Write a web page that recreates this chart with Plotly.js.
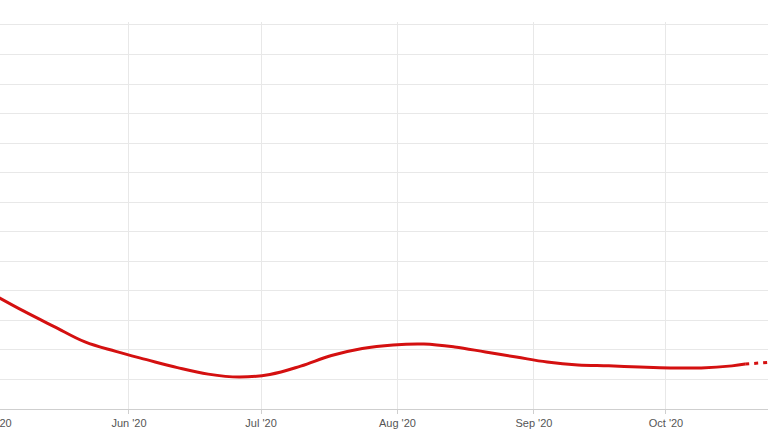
<!DOCTYPE html>
<html>
<head>
<meta charset="utf-8">
<script src="https://cdn.plot.ly/plotly-3.0.1.min.js"></script>
<style>
  html, body { margin: 0; padding: 0; overflow: hidden; background: #fff; width: 768px; height: 432px; }
  #chart { position: absolute; left: -20px; top: 0; width: 788px; height: 432px; }
</style>
</head>
<body>
<div id="chart"></div>
<script>
// Solid (actual) series
const dates = [
  '2020-05-01','2020-05-08','2020-05-15','2020-05-22','2020-05-29',
  '2020-06-05','2020-06-12','2020-06-19','2020-06-26','2020-07-03',
  '2020-07-10','2020-07-17','2020-07-24','2020-07-31','2020-08-07',
  '2020-08-14','2020-08-21','2020-08-28','2020-09-04','2020-09-11',
  '2020-09-18','2020-09-25','2020-10-02','2020-10-09','2020-10-16',
  '2020-10-19'
];
const values = [
  3.89, 3.32, 2.79, 2.27, 1.95,
  1.67, 1.40, 1.18, 1.08, 1.17,
  1.45, 1.81, 2.05, 2.17, 2.20,
  2.10, 1.93, 1.76, 1.59, 1.49,
  1.46, 1.42, 1.39, 1.39, 1.46,
  1.52
];
// Dashed (projected) series
const projDates = ['2020-10-19', '2020-10-25'];
const projValues = [1.52, 1.59];

const lineColor = '#d41010';

const traces = [
  {
    x: dates, y: values, type: 'scatter', mode: 'lines',
    line: { color: lineColor, width: 3, shape: 'spline', smoothing: 1.1 },
    hoverinfo: 'skip'
  },
  {
    x: projDates, y: projValues, type: 'scatter', mode: 'lines',
    line: { color: lineColor, width: 3, dash: '4px,5px' },
    hoverinfo: 'skip'
  }
];

const layout = {
  width: 788, height: 432,
  margin: { l: 0, r: 0, t: 22, b: 23, pad: 0 },
  paper_bgcolor: '#fff', plot_bgcolor: '#fff',
  showlegend: false,
  font: { family: 'Liberation Sans, Arial, sans-serif', size: 11, color: '#555' },
  xaxis: {
    type: 'date',
    range: ['2020-04-28 03:36', '2020-10-24 04:19'],
    dtick: 'M1', tick0: '2020-05-01',
    tickformat: "%b '%y",
    ticklabeloverflow: 'allow',
    showgrid: true, gridcolor: '#e8e8e8', gridwidth: 1,
    showline: true, linecolor: '#cfcfcf', linewidth: 1,
    ticks: 'outside', ticklen: 4, tickcolor: '#cfcfcf',
    zeroline: false,
    tickfont: { size: 11, color: '#555' }
  },
  yaxis: {
    range: [0, 13.1], dtick: 1, tick0: 0,
    showticklabels: false,
    showgrid: true, gridcolor: '#e8e8e8', gridwidth: 1,
    zeroline: false, showline: false, ticks: ''
  }
};

Plotly.newPlot('chart', traces, layout, { staticPlot: true, displayModeBar: false });
</script>
</body>
</html>
